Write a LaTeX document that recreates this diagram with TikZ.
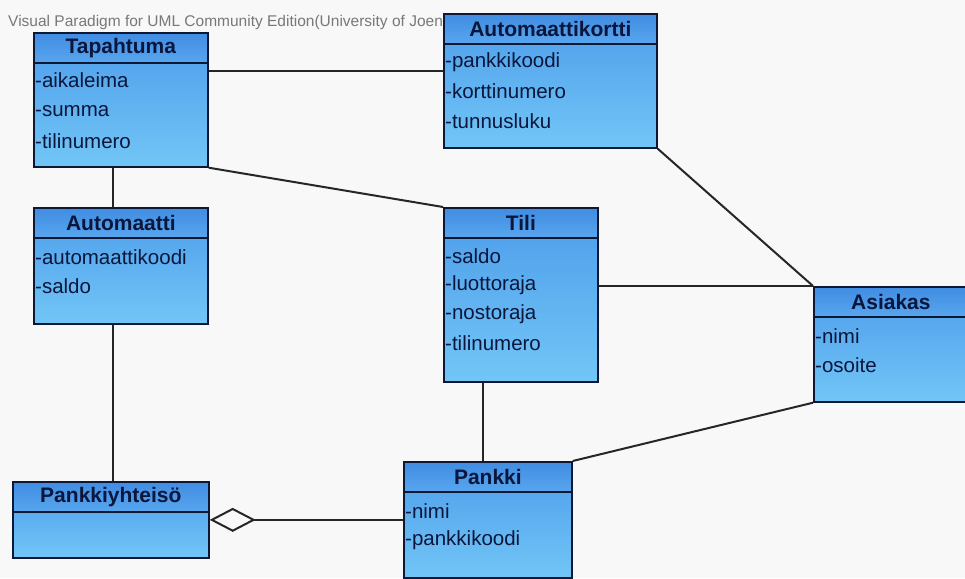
\documentclass[tikz,border=0pt]{standalone}
\usepackage{fontspec}
\setmainfont{Liberation Sans}
\usetikzlibrary{arrows.meta}
\definecolor{umlline}{RGB}{12,24,52}
\definecolor{umltext}{RGB}{10,22,60}
\definecolor{headtop}{RGB}{64,140,226}
\definecolor{headbot}{RGB}{88,166,238}
\definecolor{bodytop}{RGB}{76,156,234}
\definecolor{bodybot}{RGB}{114,198,246}
\definecolor{paper}{RGB}{248,248,248}
\definecolor{mywatermark}{RGB}{120,120,120}

\begin{document}
\begin{tikzpicture}[x=1pt,y=-1pt,
  classbox/.style={draw=umlline,line width=1.7pt,anchor=north west,inner sep=0pt,
    top color=bodytop,bottom color=bodybot},
  headbox/.style={draw=umlline,line width=1.7pt,anchor=north west,inner sep=0pt,
    top color=headtop,bottom color=headbot,minimum height=30pt,
    font=\fontsize{21}{24}\selectfont\bfseries,text=umltext},
  attr/.style={anchor=west,inner sep=0pt,font=\fontsize{20.5}{23}\selectfont,text=umltext},
  assoc/.style={draw=black!85,line width=2pt}]
  \fill[paper] (0,0) rectangle (965,578);
  \useasboundingbox (0,0) rectangle (965,578);
  \node[anchor=base west,inner sep=0pt,font=\fontsize{15.5}{17}\selectfont,text=mywatermark] (wm)
    at (8,27) {Visual Paradigm for UML Community Edition(University of Joensuu)};

  % classes
  \node[classbox,minimum width=174pt,minimum height=134pt] (tapahtuma) at (33,32) {};
    \node[headbox,minimum width=174pt] (tapahtumah) at (tapahtuma.north west) {Tapahtuma};
    \foreach \ta [count=\ti] in {-aikaleima,-summa,-tilinumero}
      \node[attr] at ([xshift=2pt,yshift={-18pt-30.5pt*\ti}]tapahtuma.north west) {\ta};
  \node[classbox,minimum width=213pt,minimum height=134pt] (kortti) at (443,13) {};
    \node[headbox,minimum width=213pt] (korttih) at (kortti.north west) {Automaattikortti};
    \foreach \ta [count=\ti] in {-pankkikoodi,-korttinumero,-tunnusluku}
      \node[attr] at ([xshift=2pt,yshift={-19.5pt-29.5pt*\ti}]kortti.north west) {\ta};
  \node[classbox,minimum width=174pt,minimum height=116pt] (automaatti) at (33,207) {};
    \node[headbox,minimum width=174pt] (automaattih) at (automaatti.north west) {Automaatti};
    \foreach \ta [count=\ti] in {-automaattikoodi,-saldo}
      \node[attr] at ([xshift=2pt,yshift={-20.5pt-29.5pt*\ti}]automaatti.north west) {\ta};
  \node[classbox,minimum width=154pt,minimum height=174pt] (tili) at (443,207) {};
    \node[headbox,minimum width=154pt] (tilih) at (tili.north west) {Tili};
    \foreach \ta [count=\ti] in {-saldo,-luottoraja,-nostoraja,-tilinumero}
      \node[attr] at ([xshift=2pt,yshift={-20.5pt-29pt*\ti}]tili.north west) {\ta};
  \node[classbox,minimum width=154pt,minimum height=115pt] (asiakas) at (813,286) {};
    \node[headbox,minimum width=154pt] (asiakash) at (asiakas.north west) {Asiakas};
    \foreach \ta [count=\ti] in {-nimi,-osoite}
      \node[attr] at ([xshift=2pt,yshift={-20.5pt-29.5pt*\ti}]asiakas.north west) {\ta};
  \node[classbox,minimum width=168pt,minimum height=116pt] (pankki) at (403,461) {};
    \node[headbox,minimum width=168pt] (pankkih) at (pankki.north west) {Pankki};
    \foreach \ta [count=\ti] in {-nimi,-pankkikoodi}
      \node[attr] at ([xshift=2pt,yshift={-21.5pt-29pt*\ti}]pankki.north west) {\ta};
  \node[classbox,minimum width=196pt,minimum height=76pt] (yhteiso) at (12,481) {};
    \node[headbox,minimum width=196pt] (yhteisoh) at (yhteiso.north west) {Pankkiyhteisö};

  % associations
  \draw[assoc] ([yshift=-39pt]tapahtuma.north east) -- ([yshift=-39pt]tapahtuma.north east -| kortti.west);
  \draw[assoc] (tapahtuma.south east) -- (tili.north west);
  \draw[assoc] ([xshift=-8pt]tapahtuma.south) -- ([xshift=-8pt]automaatti.north);
  \draw[assoc] ([xshift=-8pt]automaatti.south) -- ([xshift=-8pt]automaatti.south |- yhteiso.north);
  \draw[assoc] (kortti.south east) -- (asiakas.north west);
  \draw[assoc] (tili.east |- asiakas.north west) -- (asiakas.north west);
  \draw[assoc] ([xshift=-5pt]pankki.north |- tili.south) -- ([xshift=-5pt]pankki.north);
  \draw[assoc] (asiakas.south west) -- (pankki.north east);
  \draw[assoc,{Diamond[open,length=46pt,width=24pt]}-] (yhteiso.east) -- (pankki.west);
\end{tikzpicture}
\end{document}
